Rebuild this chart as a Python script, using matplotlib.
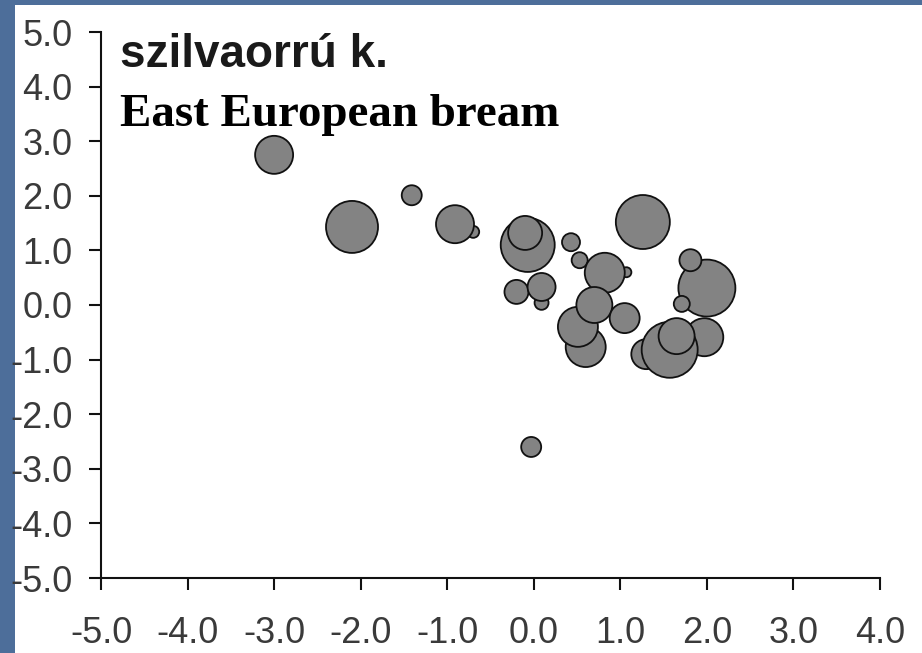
import matplotlib.pyplot as plt
from matplotlib.patches import Rectangle

# bubble data, listed in drawing order (later ones sit on top)
xs = [-3.00, -2.10, -1.41, -0.70, -0.91, -0.07, -0.10, 0.09, -0.20, 0.09,
      0.43, 0.53, 1.07, 0.82, 0.60, 0.51, 0.70, 1.05, 1.26, 2.00,
      1.81, 1.71, 1.97, 1.30, 1.57, 1.65, -0.03]
ys = [2.75, 1.43, 2.01, 1.34, 1.48, 1.10, 1.32, 0.04, 0.24, 0.33,
      1.15, 0.82, 0.60, 0.59, -0.77, -0.40, 0.00, -0.24, 1.52, 0.31,
      0.82, 0.02, -0.59, -0.90, -0.82, -0.57, -2.60]
sizes = [38, 52, 20, 12, 38, 54, 34, 14, 24, 28,
         18, 16, 10, 40, 40, 40, 36, 30, 54, 57,
         22, 16, 38, 30, 56, 36, 20]

ticks_x = [-5, -4, -3, -2, -1, 0, 1, 2, 3, 4]
ticks_y = [-5, -4, -3, -2, -1, 0, 1, 2, 3, 4, 5]
title_hu = 'szilvaorrú k.'
title_en = 'East European bream'

fig = plt.figure(figsize=(9.22, 6.53), dpi=100)
fig.patch.set_facecolor('#4d6e9a')
fig.patches.append(Rectangle((15 / 922, 0), 1, (653 - 5) / 653,
                             transform=fig.transFigure, facecolor='white',
                             edgecolor='none', zorder=-5))

ax = fig.add_axes([101 / 922, 75 / 653, 779 / 922, 546 / 653])
ax.set_facecolor('none')
ax.scatter(xs, ys, s=[(d * 0.72) ** 2 for d in sizes], c='#838383',
           edgecolors='#111111', linewidths=1.3, clip_on=False, zorder=3)

ax.set_xlim(-5, 4)
ax.set_ylim(-5, 5)
ax.set_xticks(ticks_x)
ax.set_yticks(ticks_y)
ax.set_xticklabels(['%.1f' % t for t in ticks_x])
ax.set_yticklabels(['%.1f' % t for t in ticks_y])
for side in ['top', 'right']:
    ax.spines[side].set_visible(False)
for side in ['left', 'bottom']:
    ax.spines[side].set_linewidth(1.5)
    ax.spines[side].set_color('#111111')
ax.tick_params(axis='both', direction='out', length=8.5, width=1.5,
               color='#111111', labelcolor='#3a3a3a', labelsize=26)
ax.tick_params(axis='x', pad=19)
ax.tick_params(axis='y', pad=12)
for lab in ax.get_xticklabels() + ax.get_yticklabels():
    lab.set_family('Liberation Sans')

fig.text(120 / 922, 1 - 67 / 653, title_hu, family='Liberation Sans',
         fontweight='bold', fontsize=33, color='#1a1a1a', va='baseline')
fig.text(120 / 922, 1 - 126 / 653, title_en, family='Liberation Serif',
         fontweight='bold', fontsize=33.8, color='black', va='baseline')

fig.savefig('out.png', dpi=100)
